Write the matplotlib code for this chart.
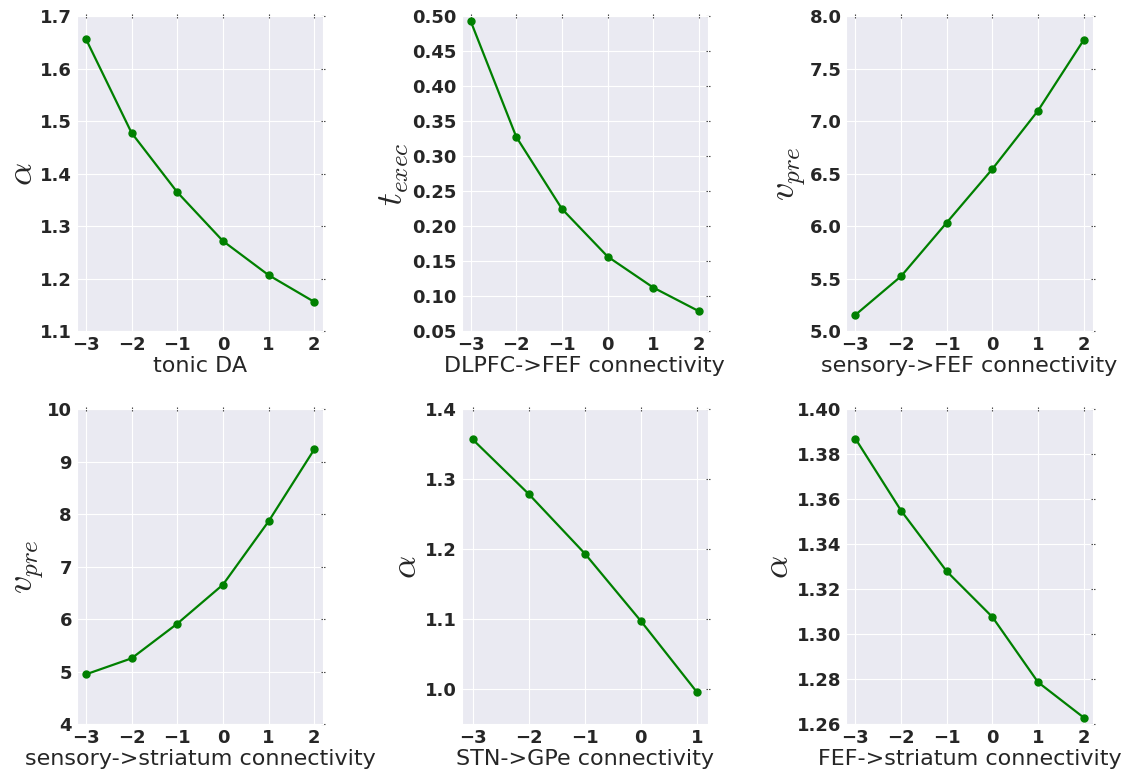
import matplotlib
matplotlib.use("Agg")
import matplotlib.pyplot as plt
import seaborn as sns

sns.set_style("darkgrid")
plt.rcParams["font.family"] = ["DejaVu Sans"]
plt.rcParams["mathtext.fontset"] = "cm"

x_full = [-3, -2, -1, 0, 1, 2]
x_stn = [-3, -2, -1, 0, 1]

tonic_da = [1.657, 1.478, 1.365, 1.272, 1.207, 1.156]
dlpfc_fef = [0.4933, 0.3276, 0.2248, 0.1567, 0.1124, 0.0786]
sensory_fef = [5.156, 5.524, 6.035, 6.546, 7.102, 7.775]
sensory_striatum = [4.952, 5.257, 5.917, 6.660, 7.867, 9.238]
stn_gpe = [1.357, 1.279, 1.194, 1.0976, 0.996]
fef_striatum = [1.387, 1.355, 1.328, 1.3077, 1.2787, 1.263]

panels = [
    (x_full, tonic_da, "tonic DA", r"$\alpha$", (1.1, 1.7), [1.1, 1.2, 1.3, 1.4, 1.5, 1.6, 1.7], "{:.1f}"),
    (x_full, dlpfc_fef, "DLPFC->FEF connectivity", r"$t_{exec}$", (0.05, 0.50),
     [0.05, 0.10, 0.15, 0.20, 0.25, 0.30, 0.35, 0.40, 0.45, 0.50], "{:.2f}"),
    (x_full, sensory_fef, "sensory->FEF connectivity", r"$v_{pre}$", (5.0, 8.0),
     [5.0, 5.5, 6.0, 6.5, 7.0, 7.5, 8.0], "{:.1f}"),
    (x_full, sensory_striatum, "sensory->striatum connectivity", r"$v_{pre}$", (4, 10),
     [4, 5, 6, 7, 8, 9, 10], "{:.0f}"),
    (x_stn, stn_gpe, "STN->GPe connectivity", r"$\alpha$", (0.95, 1.4),
     [1.0, 1.1, 1.2, 1.3, 1.4], "{:.1f}"),
    (x_full, fef_striatum, "FEF->striatum connectivity", r"$\alpha$", (1.26, 1.40),
     [1.26, 1.28, 1.30, 1.32, 1.34, 1.36, 1.38, 1.40], "{:.2f}"),
]

fig, axes = plt.subplots(2, 3, figsize=(11.29, 7.78), dpi=100)
fig.subplots_adjust(left=0.068, right=0.968, top=0.979, bottom=0.069,
                    wspace=0.56, hspace=0.248)

for ax, (xs, ys, xlabel, ylabel, ylim, yticks, fmt) in zip(axes.flat, panels):
    ax.plot(xs, ys, color="green", marker="o", markersize=5, linewidth=1.6)
    ax.set_xlim(min(xs) - 0.2, max(xs) + 0.2)
    ax.set_ylim(*ylim)
    ax.set_xticks(xs)
    ax.set_xticklabels(["\u2212" + str(-v) if v < 0 else str(v) for v in xs],
                       fontsize=13, fontweight="bold", color="#262626")
    ax.set_yticks(yticks)
    ax.set_yticklabels([fmt.format(v) for v in yticks],
                       fontsize=13, fontweight="bold", color="#262626")
    ax.set_xlabel(xlabel, fontsize=16, color="#262626", labelpad=1)
    ax.set_ylabel(ylabel, fontsize=26, color="#262626", labelpad=1)
    ax.tick_params(axis="both", which="both", direction="inout", length=3,
                   width=0.8, color="#444444", top=True, right=True, pad=2)

fig.savefig("out.png", dpi=100)
